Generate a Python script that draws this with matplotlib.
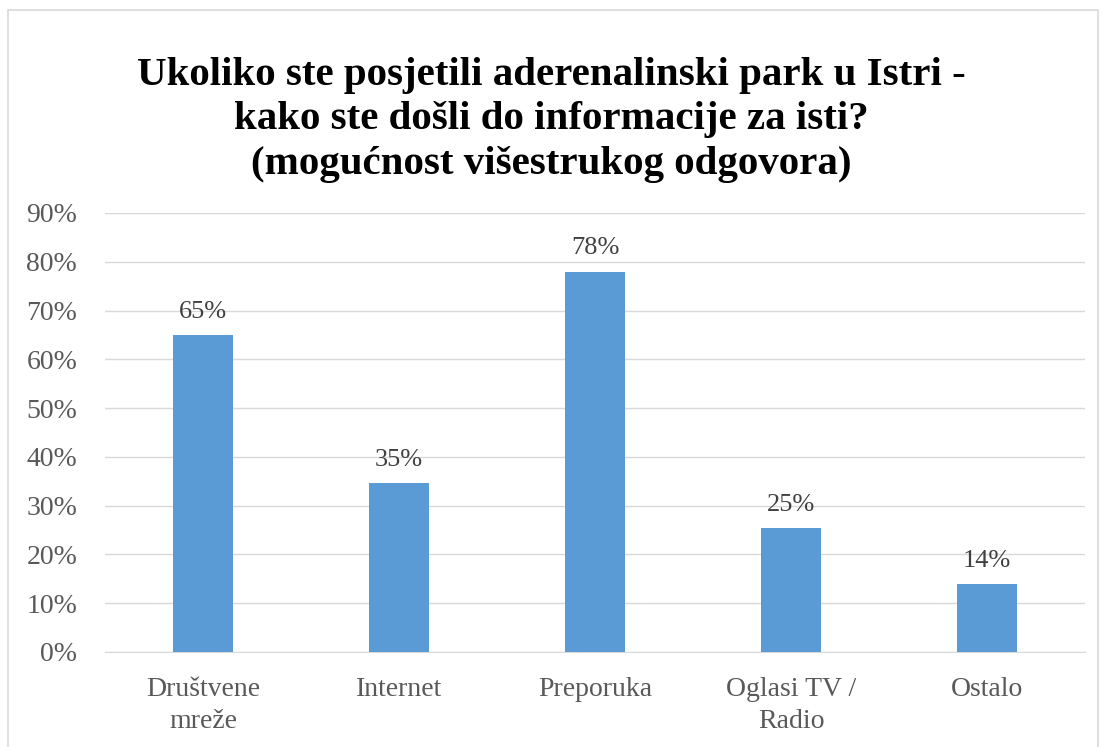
import matplotlib.pyplot as plt
import numpy as np
from matplotlib.patches import Rectangle

categories = ['Društvene\nmreže', 'Internet', 'Preporuka', 'Oglasi TV /\nRadio', 'Ostalo']
values = [0.65, 0.346, 0.78, 0.254, 0.139]
yticks = [0, 0.1, 0.2, 0.3, 0.4, 0.5, 0.6, 0.7, 0.8, 0.9]

plt.rcParams['font.family'] = ['Liberation Serif', 'DejaVu Serif']

fig = plt.figure(figsize=(11.03, 7.47), dpi=100)
ax = fig.add_axes([0.0952, 0.1272, 0.8885, 0.5877])

x = np.arange(len(categories))
ax.bar(x, values, width=0.31, color='#5B9BD5', zorder=3)
for xi, v in zip(x, values):
    ax.text(xi, v + 0.025, '{:.0f}%'.format(v * 100), ha='center', va='bottom',
            fontsize=19, color='#404040')

ax.set_xlim(-0.5, len(categories) - 0.5)
ax.set_ylim(0, 0.9)
ax.set_yticks(yticks)
ax.set_yticklabels(['{:.0f}%'.format(t * 100) for t in yticks])
ax.set_xticks(x)
ax.set_xticklabels(categories, linespacing=1.35)
ax.tick_params(axis='both', length=0, labelsize=20, labelcolor='#595959')
ax.tick_params(axis='y', pad=20)
ax.tick_params(axis='x', pad=18)
ax.grid(axis='y', color='#d9d9d9', linewidth=1, zorder=0)
for s in ['top', 'right', 'left']:
    ax.spines[s].set_visible(False)
ax.spines['bottom'].set_color('#d9d9d9')

fig.text(0.5, 0.755, 'Ukoliko ste posjetili aderenalinski park u Istri -\nkako ste došli do informacije za isti?\n(mogućnost višestrukog odgovora)',
         ha='center', va='bottom', fontsize=29.5, fontweight='bold', linespacing=1.27)

fig.patches.append(Rectangle((8 / 1103, -0.01), 1090 / 1103, 1 - 10 / 747 + 0.01,
                             transform=fig.transFigure, fill=False,
                             edgecolor='#d9d9d9', linewidth=1.2))

fig.savefig('out.png', dpi=100)
